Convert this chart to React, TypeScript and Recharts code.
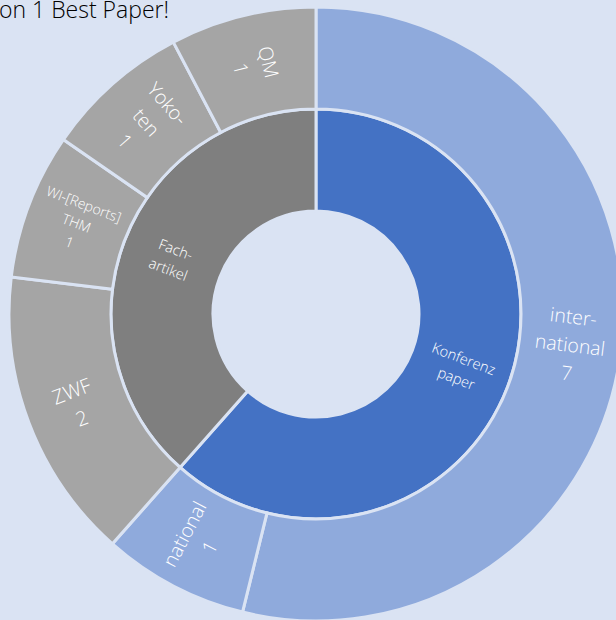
import React from 'react';
import { PieChart, Pie, Cell } from 'recharts';

const innerNames = ['Konferenz paper', 'Fachartikel'];
const innerValues = [8, 5];
const innerLabels = [['Konferenz', 'paper'], ['Fach-', 'artikel']];

const outerNames = ['international', 'national', 'ZWF', 'WI-[Reports] THM', 'Yoko-ten', 'QM'];
const outerValues = [7, 1, 2, 1, 1, 1];
const outerLabels = [
  ['inter-', 'national', '7'],
  ['national', '1'],
  ['ZWF', '2'],
  ['WI-[Reports]', 'THM', '1'],
  ['Yoko-', 'ten', '1'],
  ['QM', '1'],
];
const titleText = 'on 1 Best Paper!';

const BG = '#dae3f3';
const innerColors = ['#4472c4', '#7f7f7f'];
const outerColors = ['#8faadc', '#8faadc', '#a5a5a5', '#a5a5a5', '#a5a5a5', '#a5a5a5'];
const outerFontSizes = [19.5, 19.5, 20, 14, 19.5, 19.5];
const FONT = '"Open Sans", "Noto Sans", sans-serif';

const innerData = innerNames.map((name, i) => ({ name, value: innerValues[i], lines: innerLabels[i] }));
const outerData = outerNames.map((name, i) => ({ name, value: outerValues[i], lines: outerLabels[i] }));

const RADIAN = Math.PI / 180;

function makeLabel(sizes: number[] | number) {
  return (props: any) => {
    const { cx, cy, midAngle, innerRadius, outerRadius, index, payload } = props;
    const lines: string[] = (payload && payload.lines) || (payload && payload.payload && payload.payload.lines) || [];
    const r = (innerRadius + outerRadius) / 2;
    const x = cx + r * Math.cos(-midAngle * RADIAN);
    const y = cy + r * Math.sin(-midAngle * RADIAN);
    let rot = -midAngle - 180;
    while (rot < -90) rot += 180;
    while (rot > 90) rot -= 180;
    const fs = Array.isArray(sizes) ? sizes[index] : sizes;
    const lh = fs * 1.45;
    const n = lines.length;
    return (
      <text
        x={x}
        y={y}
        fill="#ffffff"
        fontFamily={FONT}
        fontWeight={300}
        fontSize={fs}
        textAnchor="middle"
        transform={`rotate(${rot} ${x} ${y})`}
      >
        {lines.map((ln, i) => (
          <tspan key={i} x={x} y={y + (i - (n - 1) / 2) * lh + fs * 0.36}>
            {ln}
          </tspan>
        ))}
      </text>
    );
  };
}

export default function App() {
  return (
    <div style={{ position: 'fixed', left: 0, top: 0, width: 616, height: 620, background: BG, overflow: 'hidden' }}>
      <PieChart width={616} height={620} margin={{ top: 0, right: 0, bottom: 0, left: 0 }}>
        <text x={-1} y={17.5} textAnchor="start" fontFamily={FONT} fontWeight={300} fontSize={23} fill="#000000">
          {titleText}
        </text>
        <Pie
          data={innerData}
          dataKey="value"
          nameKey="name"
          cx={316}
          cy={314}
          innerRadius={103}
          outerRadius={205}
          startAngle={90}
          endAngle={-270}
          stroke={BG}
          strokeWidth={3}
          isAnimationActive={false}
          labelLine={false}
          label={makeLabel(14.5)}
        >
          {innerData.map((d, i) => (
            <Cell key={d.name} fill={innerColors[i]} />
          ))}
        </Pie>
        <Pie
          data={outerData}
          dataKey="value"
          nameKey="name"
          cx={316}
          cy={314}
          innerRadius={205}
          outerRadius={307}
          startAngle={90}
          endAngle={-270}
          stroke={BG}
          strokeWidth={3}
          isAnimationActive={false}
          labelLine={false}
          label={makeLabel(outerFontSizes)}
        >
          {outerData.map((d, i) => (
            <Cell key={d.name} fill={outerColors[i]} />
          ))}
        </Pie>
      </PieChart>
    </div>
  );
}
